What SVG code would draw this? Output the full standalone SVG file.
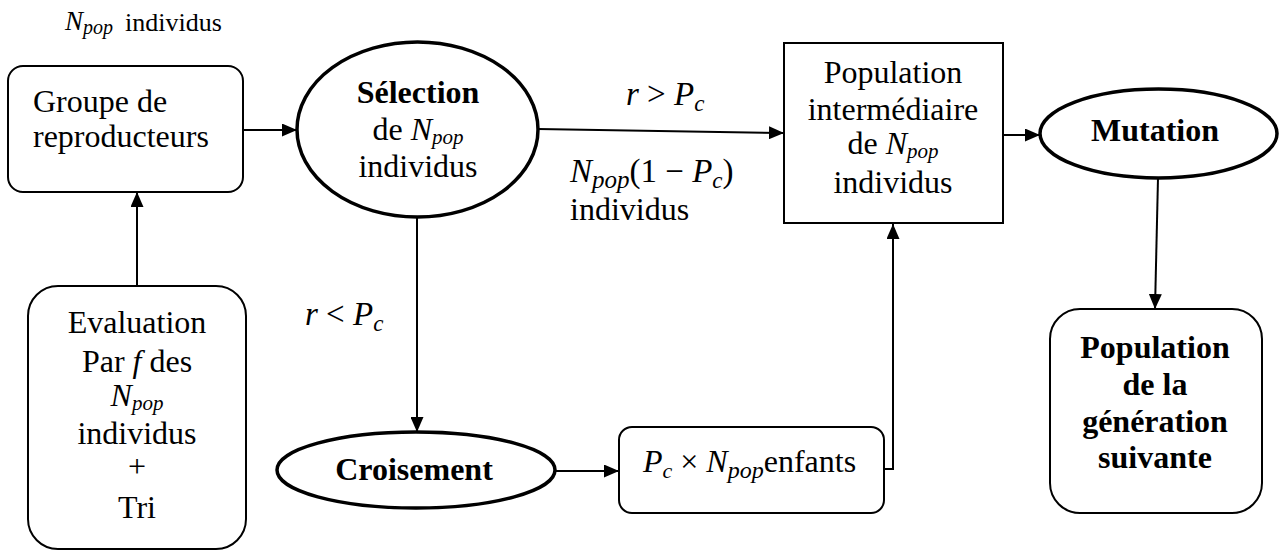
<svg xmlns="http://www.w3.org/2000/svg" width="1284" height="550" viewBox="0 0 1284 550" font-family="'Liberation Serif', 'Times New Roman', serif">
<defs>
<style>
text{font-family:"Liberation Serif","Times New Roman",serif;font-size:32px;fill:#000}
.b{font-weight:bold}
.i{font-style:italic}
.c{text-anchor:middle}
.box{fill:#fff;stroke:#000;stroke-width:2}
.ell{fill:#fff;stroke:#000;stroke-width:3.5}
.con{fill:none;stroke:#000;stroke-width:2}
</style>
<marker id="arr" markerUnits="userSpaceOnUse" markerWidth="15" markerHeight="13" refX="15" refY="6.5" orient="auto">
<path d="M0,0 L15,6.5 L0,13 z" fill="#000"/>
</marker>
</defs>
<rect width="1284" height="550" fill="#fff"/>

<g id="connectors">
<line class="con" x1="243" y1="130" x2="297" y2="130" marker-end="url(#arr)"/>
<line class="con" x1="137" y1="286" x2="137" y2="192" marker-end="url(#arr)"/>
<line class="con" x1="538" y1="129" x2="784" y2="133" marker-end="url(#arr)"/>
<line class="con" x1="417" y1="217" x2="417" y2="432" marker-end="url(#arr)"/>
<line class="con" x1="555" y1="471" x2="619" y2="471" marker-end="url(#arr)"/>
<polyline class="con" points="884,469 893,469 893,224" marker-end="url(#arr)"/>
<line class="con" x1="1003" y1="135" x2="1040" y2="135" marker-end="url(#arr)"/>
<line class="con" x1="1158" y1="178" x2="1155" y2="309" marker-end="url(#arr)"/>
</g>

<g id="label-top">
<text x="65" y="30" style="font-size:27px"><tspan class="i">N</tspan><tspan class="i" dy="4" style="font-size:20px">pop</tspan></text>
<text x="125" y="31" style="font-size:26px">individus</text>
</g>

<g id="groupe">
<rect class="box" x="8" y="66" width="235" height="126" rx="15"/>
<text x="33" y="112">Groupe de</text>
<text x="33" y="147">reproducteurs</text>
</g>

<g id="evaluation">
<rect class="box" x="28" y="286" width="218" height="263" rx="30"/>
<text class="c" x="137" y="333">Evaluation</text>
<text class="c" x="137" y="372">Par <tspan class="i">f</tspan> des</text>
<text class="c" x="137" y="406"><tspan class="i">N</tspan><tspan class="i" dy="4" style="font-size:21px">pop</tspan></text>
<text class="c" x="137" y="444">individus</text>
<text class="c" x="137" y="477">+</text>
<text class="c" x="137" y="518">Tri</text>
</g>

<g id="selection">
<ellipse class="ell" cx="417.5" cy="129.5" rx="120.5" ry="87.5"/>
<text class="c b" x="418" y="103">Sélection</text>
<text class="c" x="418" y="140">de <tspan class="i">N</tspan><tspan class="i" dy="4" style="font-size:21px">pop</tspan></text>
<text class="c" x="418" y="177">individus</text>
</g>

<g id="label-r-gt">
<text x="626" y="105" style="font-size:33px"><tspan class="i">r</tspan>  &gt;  <tspan class="i">P</tspan><tspan class="i" dy="6" style="font-size:23px">c</tspan></text>
</g>

<g id="label-npop">
<text x="570" y="182" style="font-size:33px"><tspan class="i">N</tspan><tspan class="i" dy="6" style="font-size:25px">pop</tspan><tspan dy="-6">(1 − </tspan><tspan class="i">P</tspan><tspan class="i" dy="6" style="font-size:23px">c</tspan><tspan dy="-6">)</tspan></text>
<text x="570" y="220">individus</text>
</g>

<g id="population-inter">
<rect class="box" x="784" y="43" width="219" height="180"/>
<text class="c" x="893" y="83">Population</text>
<text class="c" x="893" y="120">intermédiaire</text>
<text class="c" x="893" y="154">de <tspan class="i">N</tspan><tspan class="i" dy="4" style="font-size:21px">pop</tspan></text>
<text class="c" x="893" y="193">individus</text>
</g>

<g id="mutation">
<ellipse class="ell" cx="1158.5" cy="133.5" rx="118.5" ry="44.5"/>
<text class="c b" x="1155" y="141">Mutation</text>
</g>

<g id="label-r-lt">
<text x="305" y="325" style="font-size:33px"><tspan class="i">r</tspan>  &lt;  <tspan class="i">P</tspan><tspan class="i" dy="6" style="font-size:23px">c</tspan></text>
</g>

<g id="croisement">
<ellipse class="ell" cx="416" cy="470" rx="139" ry="38"/>
<text class="c b" x="414" y="480">Croisement</text>
</g>

<g id="enfants">
<rect class="box" x="619" y="427" width="265" height="86" rx="13"/>
<text x="643" y="472"><tspan class="i">P</tspan><tspan class="i" dy="6" style="font-size:22px">c</tspan><tspan dy="-6"> × </tspan><tspan class="i">N</tspan><tspan class="i" dy="6" style="font-size:24px">pop</tspan><tspan dy="-6">enfants</tspan></text>
</g>

<g id="population-suivante">
<rect class="box" x="1050" y="309" width="212" height="204" rx="30"/>
<text class="c b" x="1155" y="358">Population</text>
<text class="c b" x="1155" y="395">de la</text>
<text class="c b" x="1155" y="432">génération</text>
<text class="c b" x="1155" y="468">suivante</text>
</g>
</svg>
